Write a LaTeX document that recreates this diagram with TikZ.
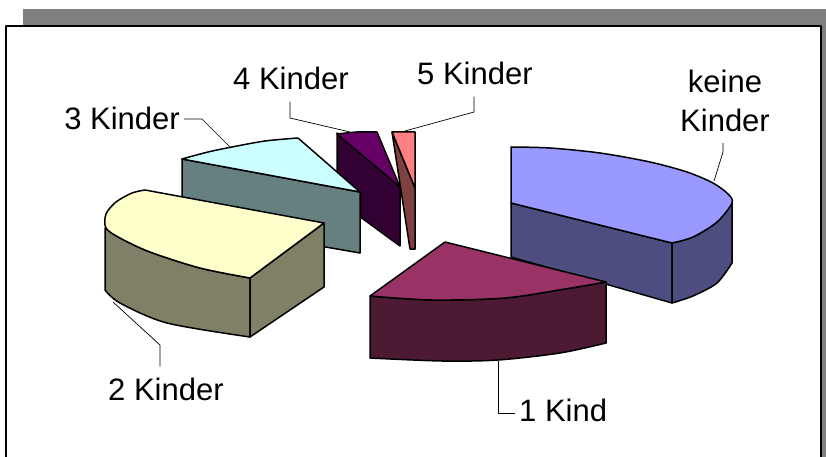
\documentclass[tikz,border=0pt]{standalone}
\usepackage{fontspec}
\setmainfont{Liberation Sans}
\usetikzlibrary{positioning}

\definecolor{keineTop}{HTML}{9999FF}
\definecolor{keineSide}{HTML}{4D4D80}
\definecolor{einsTop}{HTML}{993366}
\definecolor{einsSide}{HTML}{4D1A33}
\definecolor{zweiTop}{HTML}{FFFFCC}
\definecolor{zweiSide}{HTML}{808066}
\definecolor{dreiTop}{HTML}{CCFFFF}
\definecolor{dreiSide}{HTML}{668080}
\definecolor{vierTop}{HTML}{660066}
\definecolor{vierSide}{HTML}{330033}
\definecolor{fuenfTop}{HTML}{FF8080}
\definecolor{fuenfSide}{HTML}{804040}

\begin{document}
\begin{tikzpicture}[x=1pt, y=-1pt, line join=round,
  rand/.style={draw=black, line width=1.5pt},
  lab/.style={font=\fontsize{31}{39}\selectfont, inner xsep=4pt, inner ysep=11pt},
  leader/.style={draw=black, line width=0.7pt}]
	\useasboundingbox (0,0) rectangle (826,457);
	\fill[color=gray] (23,9) rectangle (826,457);
	\draw[line width=2pt, fill=white] (6,26) rectangle (821,470);
	% 4 und 5 Kinder
	\filldraw[rand, fill=vierSide] (337,133) -- (400,187) -- (400,246) -- (337,200) -- cycle;
	\filldraw[rand, fill=vierTop] plot[smooth] coordinates {(337,134) (357,132) (377,132)} -- (400,187) -- cycle;
	\filldraw[rand, fill=fuenfSide] (392,132) -- (415,188) -- (415,249) -- (410,249) -- cycle;
	\filldraw[rand, fill=fuenfTop] (392,132) -- (415,132) -- (415,188) -- cycle;
	% 3 Kinder
	\filldraw[rand, fill=dreiSide] (182,159) -- (360,192) -- (360,253) -- (182,222) -- cycle;
	\filldraw[rand, fill=dreiTop] plot[smooth] coordinates {(182,159) (208,152) (232,147) (265,141) (298,138)} -- (360,192) -- cycle;
	% 2 Kinder
	\filldraw[rand, fill=zweiSide] plot[smooth] coordinates {(250,278) (200,268) (150,252) (120,238) (105,228)} -- (105,290) -- plot[smooth] coordinates {(105,290) (120,303) (167,323) (250,337)} -- cycle;
	\filldraw[rand, fill=zweiSide] (250,278) -- (324,223) -- (324,287) -- (250,337) -- cycle;
	\filldraw[rand, fill=zweiTop] (145,190) -- (324,223) -- (250,278) -- plot[smooth] coordinates {(250,278) (200,268) (150,252) (120,238) (106,228) (106,214) (116,202) (132,193) (145,190)} -- cycle;
	% keine Kinder
	\filldraw[rand, fill=keineSide] (511,203) -- (672,243) -- (672,303) -- (511,257) -- cycle;
	\filldraw[rand, fill=keineSide] plot[smooth] coordinates {(672,243) (693,237) (717,222) (732,203)} -- (732,263) -- plot[smooth] coordinates {(732,263) (717,283) (693,296) (672,303)} -- cycle;
	\filldraw[rand, fill=keineTop] plot[smooth] coordinates {(511,147) (550,148) (600,153) (650,162) (687,172) (713,183) (728,194) (732,203) (717,222) (693,237) (672,243)} -- (511,203) -- cycle;
	% 1 Kind
	\filldraw[rand, fill=einsSide] plot[smooth] coordinates {(370,296) (432,300) (505,298) (565,289) (606,282)} -- (606,343) -- plot[smooth] coordinates {(606,343) (560,353) (498,360) (442,361) (370,358)} -- cycle;
	\filldraw[rand, fill=einsTop] (445,242) -- (370,296) -- plot[smooth] coordinates {(370,296) (432,300) (505,298) (565,289) (606,282)} -- cycle;
	% Beschriftung
	\node[lab, anchor=north, align=center] (keine) at (725,59) {keine\\Kinder};
	\node[lab, anchor=base west] (eins) at (515,421) {1 Kind};
	\node[lab, anchor=base west] (zwei) at (104,400) {2 Kinder};
	\node[lab, anchor=base east] (drei) at (184,130) {3 Kinder};
	\node[lab, anchor=base west] (vier) at (229,90) {4 Kinder};
	\node[lab, anchor=base west] (fuenf) at (413,85) {5 Kinder};
	\coordinate (s0) at (714,181); \coordinate (b0) at (723,152);
	\coordinate (s1) at (498,361); \coordinate (b1) at (498,413);
	\coordinate (s2) at (113,302); \coordinate (b2) at (160,345);
	\coordinate (s3) at (230,147); \coordinate (b3) at (202,119);
	\coordinate (s4) at (350,132); \coordinate (b4) at (290,118);
	\coordinate (s5) at (405,131); \coordinate (b5) at (474,112);
	\draw[leader] (s0) -- (b0) -- (b0 |- keine.south);
	\draw[leader] (s1) -- (b1) -- (eins.west |- b1);
	\draw[leader] (s2) -- (b2) -- (b2 |- zwei.north);
	\draw[leader] (s3) -- (b3) -- (drei.east |- b3);
	\draw[leader] (s4) -- (b4) -- (b4 |- vier.south);
	\draw[leader] (s5) -- (b5) -- (b5 |- fuenf.south);
\end{tikzpicture}
\end{document}
